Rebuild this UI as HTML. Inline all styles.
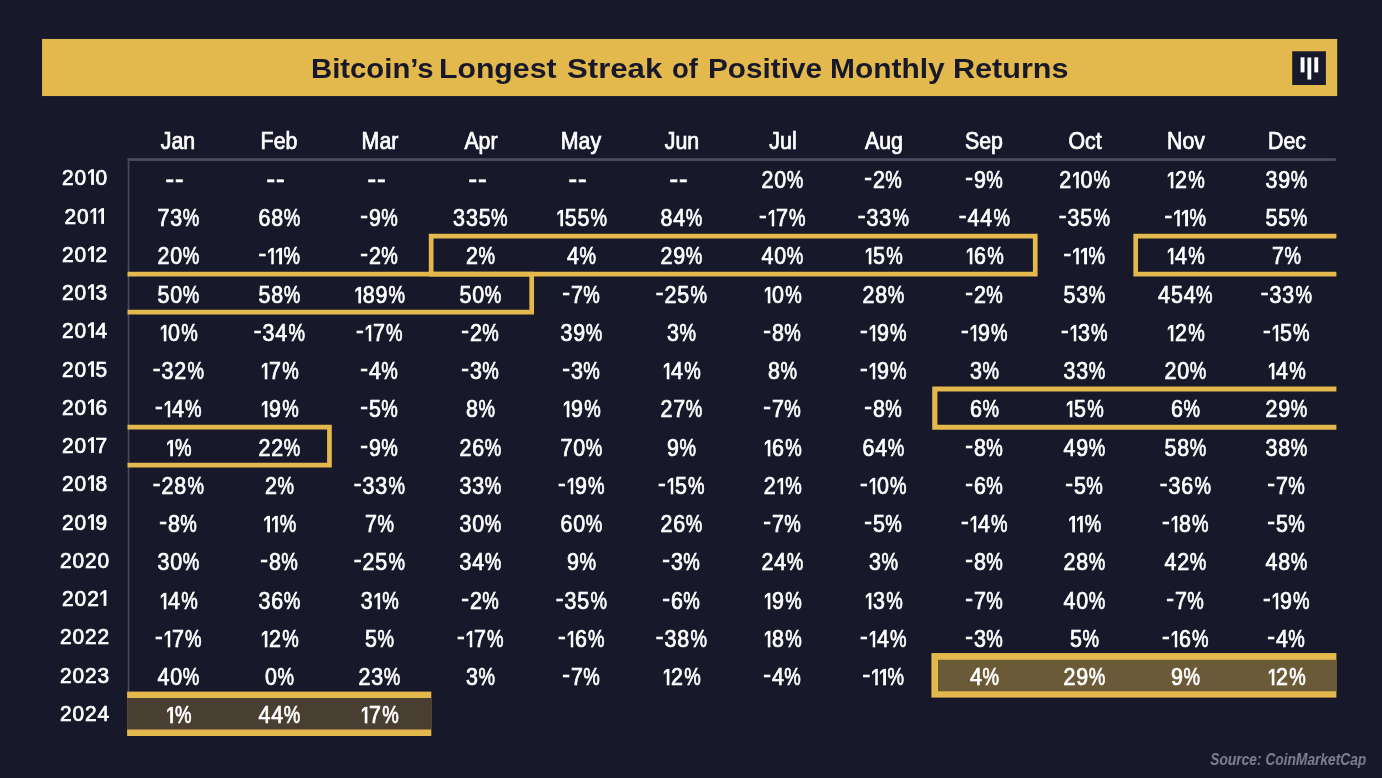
<!DOCTYPE html>
<html lang="en"><head><meta charset="utf-8"><title>Bitcoin's Longest Streak of Positive Monthly Returns</title>
<style>
html,body{margin:0;padding:0;}
body{width:1382px;height:778px;background:#17182a;overflow:hidden;position:relative;
 font-family:"Liberation Sans",sans-serif;color:#fff;}
#stage{position:absolute;left:0;top:0;width:1382px;height:778px;will-change:transform;}
.abs{position:absolute;}
.banner{left:42px;top:39px;width:1295.2px;height:57px;background:#e3b84c;}
.ttl{margin:0;padding:0;font-size:0;}
.title{top:56.2px;font-weight:bold;font-size:26px;line-height:1;color:#17182a;
 white-space:nowrap;transform-origin:0 50%;transform:scale(1.158,1.04);letter-spacing:0px;}
.logo{left:1292px;top:51px;width:34px;height:34px;background:#17182a;}
.logo i{position:absolute;background:#fff;display:block;}
.t{position:absolute;white-space:nowrap;line-height:1;text-align:center;transform:translate(-50%,-50%);}
.t b{font-weight:normal;display:inline-block;-webkit-text-stroke:0.7px #fff;}
.m b{font-size:22px;transform:scale(0.97,1.06);}
.y b{letter-spacing:0.9px;font-size:21px;transform:scale(0.995,1.05);}
.d b{letter-spacing:0.9px;font-size:22px;transform:scale(0.975,1.06);}
.o{display:inline-block;overflow:hidden;font-size:0;color:transparent;background:#fff;vertical-align:baseline;
 clip-path:polygon(100% 0,62% 0,0 20%,0 37%,54% 19%,54% 100%,100% 100%);}
.d .o{width:6.6px;height:16.3px;margin:0 1.4px -0.35px 0.6px;}
.y .o{width:6.30px;height:15.56px;margin:0 1.4px -0.35px 0.6px;}
.d b.dash{font-size:26.5px;}
.d .oo,.y .oo{margin-right:0.9px;}
.h{position:relative;top:-2.8px;display:inline-block;transform:scaleX(1.08);transform-origin:100% 50%;}
.p{display:inline-block;transform:scaleX(0.865);transform-origin:0 50%;margin-right:-2.64px;}
.gl{background:#8d8f9b;}
.bx{position:absolute;box-sizing:border-box;border:0 solid #e3b84c;}
.src{right:16px;top:751.5px;font-style:italic;font-weight:bold;font-size:16.8px;line-height:1;color:#7e8093;
 white-space:nowrap;transform-origin:100% 50%;transform:scale(0.82,1.0);}
</style></head><body>
<div id="stage">
<svg class="abs" style="left:0;top:0" width="1382" height="778" viewBox="0 0 1382 778" aria-hidden="true"><rect x="42.05" y="38.95" width="1295.15" height="57.10" fill="#e3b84c"/><rect x="1292.2" y="51.3" width="33.7" height="33.7" fill="#17182a"/><rect x="1300.6" y="57.3" width="3.9" height="15.1" fill="#fff"/><rect x="1307.45" y="57.5" width="3.8" height="22.1" fill="#fff"/><rect x="1314.3" y="57.3" width="3.9" height="15.1" fill="#fff"/><rect x="127.5" y="158.2" width="1208.40" height="2.7" fill="#4c4e60"/><rect x="127.7" y="158.2" width="1.7" height="533.60" fill="#484a5c"/><rect x="931.4" y="653.05" width="405.00" height="44.55" fill="#e3b84c"/><rect x="938.0" y="659.8" width="398.40" height="31.50" fill="#6a5a38"/><rect x="127.1" y="691.6" width="304.20" height="44.40" fill="#e3b84c"/><rect x="127.1" y="698.0" width="304.20" height="31.50" fill="#483f32"/><path d="M431.15 236.1H1035.25V274.1H431.15Z" fill="none" stroke="#e3b84c" stroke-width="4.7" stroke-linejoin="miter"/><path d="M1336.4 236.1H1135.7V274.1H1336.4" fill="none" stroke="#e3b84c" stroke-width="4.7" stroke-linejoin="miter"/><path d="M127.5 274.1H531.7V312.1H127.5" fill="none" stroke="#e3b84c" stroke-width="4.7" stroke-linejoin="miter"/><path d="M1336.4 389.0H934.8V427.25H1336.4" fill="none" stroke="#e3b84c" stroke-width="5.2" stroke-linejoin="miter"/><path d="M127.5 427.2H329.45V465.15H127.5" fill="none" stroke="#e3b84c" stroke-width="4.7" stroke-linejoin="miter"/></svg>
<h1 class="ttl"><span class="abs title" style="left:310.50px;transform:scale(1.1270,1.04)">Bitcoin&rsquo;s</span> <span class="abs title" style="left:439.49px;transform:scale(1.1621,1.04)">Longest</span> <span class="abs title" style="left:567.00px;transform:scale(1.1984,1.04)">Streak</span> <span class="abs title" style="left:672.48px;transform:scale(1.0567,1.04)">of</span> <span class="abs title" style="left:708.01px;transform:scale(1.1429,1.04)">Positive</span> <span class="abs title" style="left:829.51px;transform:scale(1.1509,1.04)">Monthly</span> <span class="abs title" style="left:952.50px;transform:scale(1.1761,1.04)">Returns</span></h1>
<div class="t m" style="left:178.37px;top:141.9px"><b>Jan</b></div>
<div class="t m" style="left:279.11px;top:141.9px"><b>Feb</b></div>
<div class="t m" style="left:379.85px;top:141.9px"><b>Mar</b></div>
<div class="t m" style="left:480.59px;top:141.9px"><b>Apr</b></div>
<div class="t m" style="left:581.33px;top:141.9px"><b>May</b></div>
<div class="t m" style="left:682.07px;top:141.9px"><b>Jun</b></div>
<div class="t m" style="left:782.81px;top:141.9px"><b>Jul</b></div>
<div class="t m" style="left:883.55px;top:141.9px"><b>Aug</b></div>
<div class="t m" style="left:984.29px;top:141.9px"><b>Sep</b></div>
<div class="t m" style="left:1085.03px;top:141.9px"><b>Oct</b></div>
<div class="t m" style="left:1185.77px;top:141.9px"><b>Nov</b></div>
<div class="t m" style="left:1286.51px;top:141.9px"><b>Dec</b></div>
<div class="t y" style="left:85px;top:177.32px"><b>20<span class="o">1</span>0</b></div>
<div class="t d" style="left:175.47px;top:178.93px"><b class="dash">--</b></div>
<div class="t d" style="left:276.21px;top:178.93px"><b class="dash">--</b></div>
<div class="t d" style="left:376.95px;top:178.93px"><b class="dash">--</b></div>
<div class="t d" style="left:477.69px;top:178.93px"><b class="dash">--</b></div>
<div class="t d" style="left:578.43px;top:178.93px"><b class="dash">--</b></div>
<div class="t d" style="left:679.17px;top:178.93px"><b class="dash">--</b></div>
<div class="t d" style="left:783.21px;top:180.93px"><b>20<span class="p">%</span></b></div>
<div class="t d" style="left:883.95px;top:180.93px"><b><span class="h">-</span>2<span class="p">%</span></b></div>
<div class="t d" style="left:984.69px;top:180.93px"><b><span class="h">-</span>9<span class="p">%</span></b></div>
<div class="t d" style="left:1085.43px;top:180.93px"><b>2<span class="o">1</span>0<span class="p">%</span></b></div>
<div class="t d" style="left:1186.17px;top:180.93px"><b><span class="o">1</span>2<span class="p">%</span></b></div>
<div class="t d" style="left:1286.91px;top:180.93px"><b>39<span class="p">%</span></b></div>
<div class="t y" style="left:85px;top:215.57px"><b>20<span class="o oo">1</span><span class="o">1</span></b></div>
<div class="t d" style="left:178.77px;top:219.18px"><b>73<span class="p">%</span></b></div>
<div class="t d" style="left:279.51px;top:219.18px"><b>68<span class="p">%</span></b></div>
<div class="t d" style="left:380.25px;top:219.18px"><b><span class="h">-</span>9<span class="p">%</span></b></div>
<div class="t d" style="left:480.99px;top:219.18px"><b>335<span class="p">%</span></b></div>
<div class="t d" style="left:581.73px;top:219.18px"><b><span class="o">1</span>55<span class="p">%</span></b></div>
<div class="t d" style="left:682.47px;top:219.18px"><b>84<span class="p">%</span></b></div>
<div class="t d" style="left:783.21px;top:219.18px"><b><span class="h">-</span><span class="o">1</span>7<span class="p">%</span></b></div>
<div class="t d" style="left:883.95px;top:219.18px"><b><span class="h">-</span>33<span class="p">%</span></b></div>
<div class="t d" style="left:984.69px;top:219.18px"><b><span class="h">-</span>44<span class="p">%</span></b></div>
<div class="t d" style="left:1085.43px;top:219.18px"><b><span class="h">-</span>35<span class="p">%</span></b></div>
<div class="t d" style="left:1186.17px;top:219.18px"><b><span class="h">-</span><span class="o oo">1</span><span class="o">1</span><span class="p">%</span></b></div>
<div class="t d" style="left:1286.91px;top:219.18px"><b>55<span class="p">%</span></b></div>
<div class="t y" style="left:85px;top:253.82px"><b>20<span class="o">1</span>2</b></div>
<div class="t d" style="left:178.77px;top:257.43px"><b>20<span class="p">%</span></b></div>
<div class="t d" style="left:279.51px;top:257.43px"><b><span class="h">-</span><span class="o oo">1</span><span class="o">1</span><span class="p">%</span></b></div>
<div class="t d" style="left:380.25px;top:257.43px"><b><span class="h">-</span>2<span class="p">%</span></b></div>
<div class="t d" style="left:480.99px;top:257.43px"><b>2<span class="p">%</span></b></div>
<div class="t d" style="left:581.73px;top:257.43px"><b>4<span class="p">%</span></b></div>
<div class="t d" style="left:682.47px;top:257.43px"><b>29<span class="p">%</span></b></div>
<div class="t d" style="left:783.21px;top:257.43px"><b>40<span class="p">%</span></b></div>
<div class="t d" style="left:883.95px;top:257.43px"><b><span class="o">1</span>5<span class="p">%</span></b></div>
<div class="t d" style="left:984.69px;top:257.43px"><b><span class="o">1</span>6<span class="p">%</span></b></div>
<div class="t d" style="left:1085.43px;top:257.43px"><b><span class="h">-</span><span class="o oo">1</span><span class="o">1</span><span class="p">%</span></b></div>
<div class="t d" style="left:1186.17px;top:257.43px"><b><span class="o">1</span>4<span class="p">%</span></b></div>
<div class="t d" style="left:1286.91px;top:257.43px"><b>7<span class="p">%</span></b></div>
<div class="t y" style="left:85px;top:292.07px"><b>20<span class="o">1</span>3</b></div>
<div class="t d" style="left:178.77px;top:295.68px"><b>50<span class="p">%</span></b></div>
<div class="t d" style="left:279.51px;top:295.68px"><b>58<span class="p">%</span></b></div>
<div class="t d" style="left:380.25px;top:295.68px"><b><span class="o">1</span>89<span class="p">%</span></b></div>
<div class="t d" style="left:480.99px;top:295.68px"><b>50<span class="p">%</span></b></div>
<div class="t d" style="left:581.73px;top:295.68px"><b><span class="h">-</span>7<span class="p">%</span></b></div>
<div class="t d" style="left:682.47px;top:295.68px"><b><span class="h">-</span>25<span class="p">%</span></b></div>
<div class="t d" style="left:783.21px;top:295.68px"><b><span class="o">1</span>0<span class="p">%</span></b></div>
<div class="t d" style="left:883.95px;top:295.68px"><b>28<span class="p">%</span></b></div>
<div class="t d" style="left:984.69px;top:295.68px"><b><span class="h">-</span>2<span class="p">%</span></b></div>
<div class="t d" style="left:1085.43px;top:295.68px"><b>53<span class="p">%</span></b></div>
<div class="t d" style="left:1186.17px;top:295.68px"><b>454<span class="p">%</span></b></div>
<div class="t d" style="left:1286.91px;top:295.68px"><b><span class="h">-</span>33<span class="p">%</span></b></div>
<div class="t y" style="left:85px;top:330.32px"><b>20<span class="o">1</span>4</b></div>
<div class="t d" style="left:178.77px;top:333.93px"><b><span class="o">1</span>0<span class="p">%</span></b></div>
<div class="t d" style="left:279.51px;top:333.93px"><b><span class="h">-</span>34<span class="p">%</span></b></div>
<div class="t d" style="left:380.25px;top:333.93px"><b><span class="h">-</span><span class="o">1</span>7<span class="p">%</span></b></div>
<div class="t d" style="left:480.99px;top:333.93px"><b><span class="h">-</span>2<span class="p">%</span></b></div>
<div class="t d" style="left:581.73px;top:333.93px"><b>39<span class="p">%</span></b></div>
<div class="t d" style="left:682.47px;top:333.93px"><b>3<span class="p">%</span></b></div>
<div class="t d" style="left:783.21px;top:333.93px"><b><span class="h">-</span>8<span class="p">%</span></b></div>
<div class="t d" style="left:883.95px;top:333.93px"><b><span class="h">-</span><span class="o">1</span>9<span class="p">%</span></b></div>
<div class="t d" style="left:984.69px;top:333.93px"><b><span class="h">-</span><span class="o">1</span>9<span class="p">%</span></b></div>
<div class="t d" style="left:1085.43px;top:333.93px"><b><span class="h">-</span><span class="o">1</span>3<span class="p">%</span></b></div>
<div class="t d" style="left:1186.17px;top:333.93px"><b><span class="o">1</span>2<span class="p">%</span></b></div>
<div class="t d" style="left:1286.91px;top:333.93px"><b><span class="h">-</span><span class="o">1</span>5<span class="p">%</span></b></div>
<div class="t y" style="left:85px;top:368.57px"><b>20<span class="o">1</span>5</b></div>
<div class="t d" style="left:178.77px;top:372.18px"><b><span class="h">-</span>32<span class="p">%</span></b></div>
<div class="t d" style="left:279.51px;top:372.18px"><b><span class="o">1</span>7<span class="p">%</span></b></div>
<div class="t d" style="left:380.25px;top:372.18px"><b><span class="h">-</span>4<span class="p">%</span></b></div>
<div class="t d" style="left:480.99px;top:372.18px"><b><span class="h">-</span>3<span class="p">%</span></b></div>
<div class="t d" style="left:581.73px;top:372.18px"><b><span class="h">-</span>3<span class="p">%</span></b></div>
<div class="t d" style="left:682.47px;top:372.18px"><b><span class="o">1</span>4<span class="p">%</span></b></div>
<div class="t d" style="left:783.21px;top:372.18px"><b>8<span class="p">%</span></b></div>
<div class="t d" style="left:883.95px;top:372.18px"><b><span class="h">-</span><span class="o">1</span>9<span class="p">%</span></b></div>
<div class="t d" style="left:984.69px;top:372.18px"><b>3<span class="p">%</span></b></div>
<div class="t d" style="left:1085.43px;top:372.18px"><b>33<span class="p">%</span></b></div>
<div class="t d" style="left:1186.17px;top:372.18px"><b>20<span class="p">%</span></b></div>
<div class="t d" style="left:1286.91px;top:372.18px"><b><span class="o">1</span>4<span class="p">%</span></b></div>
<div class="t y" style="left:85px;top:406.82px"><b>20<span class="o">1</span>6</b></div>
<div class="t d" style="left:178.77px;top:410.43px"><b><span class="h">-</span><span class="o">1</span>4<span class="p">%</span></b></div>
<div class="t d" style="left:279.51px;top:410.43px"><b><span class="o">1</span>9<span class="p">%</span></b></div>
<div class="t d" style="left:380.25px;top:410.43px"><b><span class="h">-</span>5<span class="p">%</span></b></div>
<div class="t d" style="left:480.99px;top:410.43px"><b>8<span class="p">%</span></b></div>
<div class="t d" style="left:581.73px;top:410.43px"><b><span class="o">1</span>9<span class="p">%</span></b></div>
<div class="t d" style="left:682.47px;top:410.43px"><b>27<span class="p">%</span></b></div>
<div class="t d" style="left:783.21px;top:410.43px"><b><span class="h">-</span>7<span class="p">%</span></b></div>
<div class="t d" style="left:883.95px;top:410.43px"><b><span class="h">-</span>8<span class="p">%</span></b></div>
<div class="t d" style="left:984.69px;top:410.43px"><b>6<span class="p">%</span></b></div>
<div class="t d" style="left:1085.43px;top:410.43px"><b><span class="o">1</span>5<span class="p">%</span></b></div>
<div class="t d" style="left:1186.17px;top:410.43px"><b>6<span class="p">%</span></b></div>
<div class="t d" style="left:1286.91px;top:410.43px"><b>29<span class="p">%</span></b></div>
<div class="t y" style="left:85px;top:445.07px"><b>20<span class="o">1</span>7</b></div>
<div class="t d" style="left:178.77px;top:448.68px"><b><span class="o">1</span><span class="p">%</span></b></div>
<div class="t d" style="left:279.51px;top:448.68px"><b>22<span class="p">%</span></b></div>
<div class="t d" style="left:380.25px;top:448.68px"><b><span class="h">-</span>9<span class="p">%</span></b></div>
<div class="t d" style="left:480.99px;top:448.68px"><b>26<span class="p">%</span></b></div>
<div class="t d" style="left:581.73px;top:448.68px"><b>70<span class="p">%</span></b></div>
<div class="t d" style="left:682.47px;top:448.68px"><b>9<span class="p">%</span></b></div>
<div class="t d" style="left:783.21px;top:448.68px"><b><span class="o">1</span>6<span class="p">%</span></b></div>
<div class="t d" style="left:883.95px;top:448.68px"><b>64<span class="p">%</span></b></div>
<div class="t d" style="left:984.69px;top:448.68px"><b><span class="h">-</span>8<span class="p">%</span></b></div>
<div class="t d" style="left:1085.43px;top:448.68px"><b>49<span class="p">%</span></b></div>
<div class="t d" style="left:1186.17px;top:448.68px"><b>58<span class="p">%</span></b></div>
<div class="t d" style="left:1286.91px;top:448.68px"><b>38<span class="p">%</span></b></div>
<div class="t y" style="left:85px;top:483.32px"><b>20<span class="o">1</span>8</b></div>
<div class="t d" style="left:178.77px;top:486.93px"><b><span class="h">-</span>28<span class="p">%</span></b></div>
<div class="t d" style="left:279.51px;top:486.93px"><b>2<span class="p">%</span></b></div>
<div class="t d" style="left:380.25px;top:486.93px"><b><span class="h">-</span>33<span class="p">%</span></b></div>
<div class="t d" style="left:480.99px;top:486.93px"><b>33<span class="p">%</span></b></div>
<div class="t d" style="left:581.73px;top:486.93px"><b><span class="h">-</span><span class="o">1</span>9<span class="p">%</span></b></div>
<div class="t d" style="left:682.47px;top:486.93px"><b><span class="h">-</span><span class="o">1</span>5<span class="p">%</span></b></div>
<div class="t d" style="left:783.21px;top:486.93px"><b>2<span class="o">1</span><span class="p">%</span></b></div>
<div class="t d" style="left:883.95px;top:486.93px"><b><span class="h">-</span><span class="o">1</span>0<span class="p">%</span></b></div>
<div class="t d" style="left:984.69px;top:486.93px"><b><span class="h">-</span>6<span class="p">%</span></b></div>
<div class="t d" style="left:1085.43px;top:486.93px"><b><span class="h">-</span>5<span class="p">%</span></b></div>
<div class="t d" style="left:1186.17px;top:486.93px"><b><span class="h">-</span>36<span class="p">%</span></b></div>
<div class="t d" style="left:1286.91px;top:486.93px"><b><span class="h">-</span>7<span class="p">%</span></b></div>
<div class="t y" style="left:85px;top:521.58px"><b>20<span class="o">1</span>9</b></div>
<div class="t d" style="left:178.77px;top:525.17px"><b><span class="h">-</span>8<span class="p">%</span></b></div>
<div class="t d" style="left:279.51px;top:525.17px"><b><span class="o oo">1</span><span class="o">1</span><span class="p">%</span></b></div>
<div class="t d" style="left:380.25px;top:525.17px"><b>7<span class="p">%</span></b></div>
<div class="t d" style="left:480.99px;top:525.17px"><b>30<span class="p">%</span></b></div>
<div class="t d" style="left:581.73px;top:525.17px"><b>60<span class="p">%</span></b></div>
<div class="t d" style="left:682.47px;top:525.17px"><b>26<span class="p">%</span></b></div>
<div class="t d" style="left:783.21px;top:525.17px"><b><span class="h">-</span>7<span class="p">%</span></b></div>
<div class="t d" style="left:883.95px;top:525.17px"><b><span class="h">-</span>5<span class="p">%</span></b></div>
<div class="t d" style="left:984.69px;top:525.17px"><b><span class="h">-</span><span class="o">1</span>4<span class="p">%</span></b></div>
<div class="t d" style="left:1085.43px;top:525.17px"><b><span class="o oo">1</span><span class="o">1</span><span class="p">%</span></b></div>
<div class="t d" style="left:1186.17px;top:525.17px"><b><span class="h">-</span><span class="o">1</span>8<span class="p">%</span></b></div>
<div class="t d" style="left:1286.91px;top:525.17px"><b><span class="h">-</span>5<span class="p">%</span></b></div>
<div class="t y" style="left:85px;top:559.83px"><b>2020</b></div>
<div class="t d" style="left:178.77px;top:563.42px"><b>30<span class="p">%</span></b></div>
<div class="t d" style="left:279.51px;top:563.42px"><b><span class="h">-</span>8<span class="p">%</span></b></div>
<div class="t d" style="left:380.25px;top:563.42px"><b><span class="h">-</span>25<span class="p">%</span></b></div>
<div class="t d" style="left:480.99px;top:563.42px"><b>34<span class="p">%</span></b></div>
<div class="t d" style="left:581.73px;top:563.42px"><b>9<span class="p">%</span></b></div>
<div class="t d" style="left:682.47px;top:563.42px"><b><span class="h">-</span>3<span class="p">%</span></b></div>
<div class="t d" style="left:783.21px;top:563.42px"><b>24<span class="p">%</span></b></div>
<div class="t d" style="left:883.95px;top:563.42px"><b>3<span class="p">%</span></b></div>
<div class="t d" style="left:984.69px;top:563.42px"><b><span class="h">-</span>8<span class="p">%</span></b></div>
<div class="t d" style="left:1085.43px;top:563.42px"><b>28<span class="p">%</span></b></div>
<div class="t d" style="left:1186.17px;top:563.42px"><b>42<span class="p">%</span></b></div>
<div class="t d" style="left:1286.91px;top:563.42px"><b>48<span class="p">%</span></b></div>
<div class="t y" style="left:85px;top:598.08px"><b>202<span class="o">1</span></b></div>
<div class="t d" style="left:178.77px;top:601.67px"><b><span class="o">1</span>4<span class="p">%</span></b></div>
<div class="t d" style="left:279.51px;top:601.67px"><b>36<span class="p">%</span></b></div>
<div class="t d" style="left:380.25px;top:601.67px"><b>3<span class="o">1</span><span class="p">%</span></b></div>
<div class="t d" style="left:480.99px;top:601.67px"><b><span class="h">-</span>2<span class="p">%</span></b></div>
<div class="t d" style="left:581.73px;top:601.67px"><b><span class="h">-</span>35<span class="p">%</span></b></div>
<div class="t d" style="left:682.47px;top:601.67px"><b><span class="h">-</span>6<span class="p">%</span></b></div>
<div class="t d" style="left:783.21px;top:601.67px"><b><span class="o">1</span>9<span class="p">%</span></b></div>
<div class="t d" style="left:883.95px;top:601.67px"><b><span class="o">1</span>3<span class="p">%</span></b></div>
<div class="t d" style="left:984.69px;top:601.67px"><b><span class="h">-</span>7<span class="p">%</span></b></div>
<div class="t d" style="left:1085.43px;top:601.67px"><b>40<span class="p">%</span></b></div>
<div class="t d" style="left:1186.17px;top:601.67px"><b><span class="h">-</span>7<span class="p">%</span></b></div>
<div class="t d" style="left:1286.91px;top:601.67px"><b><span class="h">-</span><span class="o">1</span>9<span class="p">%</span></b></div>
<div class="t y" style="left:85px;top:636.33px"><b>2022</b></div>
<div class="t d" style="left:178.77px;top:639.92px"><b><span class="h">-</span><span class="o">1</span>7<span class="p">%</span></b></div>
<div class="t d" style="left:279.51px;top:639.92px"><b><span class="o">1</span>2<span class="p">%</span></b></div>
<div class="t d" style="left:380.25px;top:639.92px"><b>5<span class="p">%</span></b></div>
<div class="t d" style="left:480.99px;top:639.92px"><b><span class="h">-</span><span class="o">1</span>7<span class="p">%</span></b></div>
<div class="t d" style="left:581.73px;top:639.92px"><b><span class="h">-</span><span class="o">1</span>6<span class="p">%</span></b></div>
<div class="t d" style="left:682.47px;top:639.92px"><b><span class="h">-</span>38<span class="p">%</span></b></div>
<div class="t d" style="left:783.21px;top:639.92px"><b><span class="o">1</span>8<span class="p">%</span></b></div>
<div class="t d" style="left:883.95px;top:639.92px"><b><span class="h">-</span><span class="o">1</span>4<span class="p">%</span></b></div>
<div class="t d" style="left:984.69px;top:639.92px"><b><span class="h">-</span>3<span class="p">%</span></b></div>
<div class="t d" style="left:1085.43px;top:639.92px"><b>5<span class="p">%</span></b></div>
<div class="t d" style="left:1186.17px;top:639.92px"><b><span class="h">-</span><span class="o">1</span>6<span class="p">%</span></b></div>
<div class="t d" style="left:1286.91px;top:639.92px"><b><span class="h">-</span>4<span class="p">%</span></b></div>
<div class="t y" style="left:85px;top:674.58px"><b>2023</b></div>
<div class="t d" style="left:178.77px;top:678.17px"><b>40<span class="p">%</span></b></div>
<div class="t d" style="left:279.51px;top:678.17px"><b>0<span class="p">%</span></b></div>
<div class="t d" style="left:380.25px;top:678.17px"><b>23<span class="p">%</span></b></div>
<div class="t d" style="left:480.99px;top:678.17px"><b>3<span class="p">%</span></b></div>
<div class="t d" style="left:581.73px;top:678.17px"><b><span class="h">-</span>7<span class="p">%</span></b></div>
<div class="t d" style="left:682.47px;top:678.17px"><b><span class="o">1</span>2<span class="p">%</span></b></div>
<div class="t d" style="left:783.21px;top:678.17px"><b><span class="h">-</span>4<span class="p">%</span></b></div>
<div class="t d" style="left:883.95px;top:678.17px"><b><span class="h">-</span><span class="o oo">1</span><span class="o">1</span><span class="p">%</span></b></div>
<div class="t d" style="left:984.69px;top:678.17px"><b>4<span class="p">%</span></b></div>
<div class="t d" style="left:1085.43px;top:678.17px"><b>29<span class="p">%</span></b></div>
<div class="t d" style="left:1186.17px;top:678.17px"><b>9<span class="p">%</span></b></div>
<div class="t d" style="left:1286.91px;top:678.17px"><b><span class="o">1</span>2<span class="p">%</span></b></div>
<div class="t y" style="left:85px;top:712.83px"><b>2024</b></div>
<div class="t d" style="left:178.77px;top:716.42px"><b><span class="o">1</span><span class="p">%</span></b></div>
<div class="t d" style="left:279.51px;top:716.42px"><b>44<span class="p">%</span></b></div>
<div class="t d" style="left:380.25px;top:716.42px"><b><span class="o">1</span>7<span class="p">%</span></b></div>
<div class="abs src">Source: CoinMarketCap</div>
</div>
</body></html>
